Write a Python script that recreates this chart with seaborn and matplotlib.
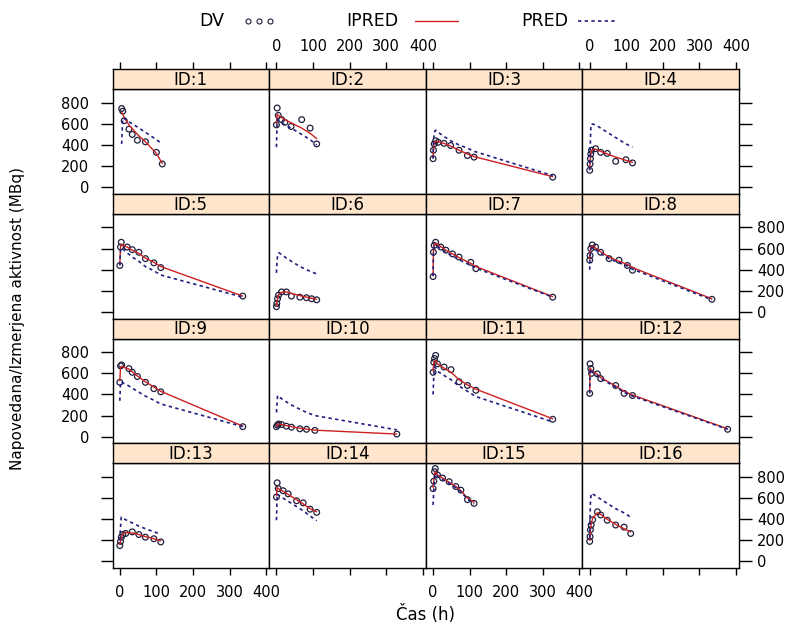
import numpy as np
import pandas as pd
import matplotlib
matplotlib.use("Agg")
import matplotlib.pyplot as plt
from matplotlib.lines import Line2D
import seaborn as sns

# ---- data: one list per subject (ID 1..16) ----
ids = list(range(1, 17))

sample_times = [
    [5, 8, 12, 25, 34, 48, 70, 100, 116],
    [0, 2, 5, 14, 23, 40, 69, 92, 110],
    [0, 1, 3, 7, 14, 30, 48, 71, 94, 112, 327],
    [0, 1, 2, 3, 5, 16, 30, 48, 71, 99, 117],
    [0, 2, 4, 20, 34, 52, 70, 93, 112, 336],
    [0, 1, 3, 6, 14, 27, 41, 64, 82, 96, 110],
    [0, 1, 3, 7, 21, 35, 53, 71, 103, 117, 327],
    [0, 1, 3, 7, 16, 30, 53, 80, 103, 117, 334],
    [0, 2, 5, 25, 34, 48, 70, 93, 112, 336],
    [0, 3, 6, 14, 27, 41, 64, 82, 105, 329],
    [0, 2, 4, 7, 12, 30, 49, 71, 94, 117, 327],
    [0, 1, 3, 5, 21, 30, 71, 94, 117, 377],
    [0, 2, 4, 8, 16, 34, 52, 70, 93, 112],
    [0, 2, 5, 18, 32, 55, 73, 92, 110],
    [0, 2, 4, 6, 12, 26, 44, 62, 76, 94, 112],
    [0, 1, 2, 4, 8, 21, 30, 48, 71, 94, 112],
]

dv_values = [
    [745, 720, 630, 550, 500, 445, 430, 330, 220],
    [590, 750, 680, 640, 615, 575, 640, 560, 410],
    [270, 350, 410, 440, 425, 415, 395, 350, 300, 285, 95],
    [160, 220, 270, 315, 350, 365, 330, 320, 245, 260, 230],
    [440, 615, 660, 615, 590, 565, 505, 465, 420, 150],
    [50, 80, 125, 160, 190, 190, 150, 140, 135, 125, 115],
    [335, 565, 630, 660, 615, 585, 550, 520, 470, 410, 140],
    [490, 535, 600, 635, 615, 565, 505, 490, 440, 395, 120],
    [515, 670, 680, 645, 610, 570, 515, 455, 425, 95],
    [95, 110, 120, 115, 100, 90, 75, 70, 60, 25],
    [610, 705, 740, 770, 690, 660, 635, 520, 485, 440, 165],
    [410, 690, 645, 600, 595, 550, 485, 410, 390, 70],
    [150, 190, 230, 255, 265, 280, 255, 230, 215, 185],
    [610, 745, 690, 670, 640, 575, 555, 495, 465],
    [690, 760, 850, 880, 820, 790, 755, 710, 675, 585, 550],
    [190, 235, 300, 345, 395, 470, 440, 390, 345, 325, 265],
]

ipred_values = [
    [710, 690, 660, 590, 555, 500, 430, 320, 225],
    [600, 690, 680, 660, 640, 610, 560, 510, 460],
    [280, 360, 420, 435, 430, 415, 390, 350, 315, 290, 100],
    [170, 230, 280, 320, 350, 360, 340, 315, 285, 255, 235],
    [450, 620, 640, 615, 585, 555, 510, 470, 430, 150],
    [55, 85, 130, 165, 185, 190, 175, 155, 140, 130, 120],
    [345, 570, 640, 650, 620, 585, 550, 515, 460, 430, 145],
    [500, 560, 610, 625, 605, 570, 520, 480, 450, 420, 125],
    [530, 660, 665, 640, 615, 575, 520, 470, 430, 100],
    [100, 115, 120, 115, 105, 95, 80, 72, 62, 25],
    [620, 700, 715, 720, 690, 650, 610, 540, 490, 450, 170],
    [420, 650, 640, 625, 590, 560, 480, 430, 395, 75],
    [160, 195, 235, 260, 275, 270, 255, 235, 215, 195],
    [620, 700, 690, 665, 635, 585, 545, 500, 470],
    [700, 770, 830, 850, 820, 790, 750, 710, 670, 600, 560],
    [200, 240, 300, 350, 410, 460, 445, 400, 350, 310, 280],
]

pred_values = [
    [410, 655, 650, 620, 600, 570, 520, 450, 410],
    [380, 640, 630, 610, 590, 560, 500, 450, 400],
    [270, 420, 520, 540, 520, 480, 440, 400, 370, 340, 110],
    [160, 300, 450, 560, 600, 590, 560, 520, 470, 410, 380],
    [440, 600, 610, 560, 520, 480, 430, 390, 350, 140],
    [370, 450, 530, 560, 545, 510, 480, 430, 400, 380, 360],
    [340, 560, 620, 630, 600, 565, 530, 495, 440, 415, 140],
    [400, 520, 590, 610, 590, 555, 505, 465, 435, 405, 115],
    [340, 520, 515, 480, 460, 430, 385, 345, 310, 95],
    [230, 390, 380, 360, 330, 300, 260, 230, 200, 65],
    [400, 580, 660, 650, 620, 580, 540, 480, 430, 380, 140],
    [410, 640, 630, 615, 580, 550, 470, 420, 385, 70],
    [200, 330, 420, 410, 395, 365, 335, 310, 280, 260],
    [390, 640, 630, 600, 570, 520, 480, 430, 385],
    [535, 680, 800, 830, 805, 775, 740, 700, 660, 590, 545],
    [220, 400, 560, 645, 640, 610, 590, 550, 500, 460, 420],
]

x_ticks = [0, 100, 200, 300, 400]
y_ticks = [0, 200, 400, 600, 800]
x_label = "Čas (h)"
y_label = "Napovedana/Izmerjena aktivnost (MBq)"
series_names = ["DV", "IPRED", "PRED"]

# ---- long table ----
rows = []
for pid, ts, dv, ip, pr in zip(ids, sample_times, dv_values, ipred_values, pred_values):
    for t, a, b, c in zip(ts, dv, ip, pr):
        rows.append({"ID": pid, "time": t, "DV": a, "IPRED": b, "PRED": c})
wide = pd.DataFrame(rows)
long = wide.melt(id_vars=["ID", "time"], var_name="series", value_name="value")

# ---- style ----
sns.set_theme(style="white")
plt.rcParams["font.family"] = ["DejaVu Sans"]
plt.rcParams["axes.linewidth"] = 1.0
plt.rcParams["text.color"] = "black"

dv_color = "#1E1E3C"
ipred_color = "#CC2020"
pred_color = "#1F1F80"
strip_color = "#FFE5CC"
pred_dash = (0, (2.0, 2.0))

W, H = 800, 627
fig = plt.figure(figsize=(W / 100, H / 100), dpi=100)
fig.patch.set_facecolor("white")


def box(x0, y0, x1, y1):
    """Pixel box (top-left origin) -> figure rect."""
    return [x0 / W, 1 - y1 / H, (x1 - x0) / W, (y1 - y0) / H]


left, right = 112.5, 739.0
top, bottom = 69.0, 568.0
ncol, nrow = 4, 4
cw = (right - left) / ncol
rh = (bottom - top) / nrow
strip_h = 20.0
xlim = (-20, 408)
ylim = (-62, 930)
tick_fs = 10.5

for i, pid in enumerate(ids):
    r, c = divmod(i, ncol)
    x0 = left + c * cw
    x1 = x0 + cw
    y0 = top + r * rh
    ys = y0 + strip_h
    y1 = y0 + rh

    ax = fig.add_axes(box(x0, ys, x1, y1))
    sax = fig.add_axes(box(x0, y0, x1, ys))

    sub = long[long["ID"] == pid]
    sns.scatterplot(data=sub[sub["series"] == "DV"], x="time", y="value", ax=ax,
                    marker="o", s=17, color=dv_color, facecolors="none",
                    edgecolors=dv_color, linewidth=0.9, legend=False, zorder=3)
    sns.lineplot(data=sub[sub["series"] == "IPRED"], x="time", y="value", ax=ax,
                 color=ipred_color, linewidth=1.0, estimator=None, sort=True,
                 legend=False, zorder=4)
    sns.lineplot(data=sub[sub["series"] == "PRED"], x="time", y="value", ax=ax,
                 color=pred_color, linewidth=1.2, linestyle=pred_dash,
                 estimator=None, sort=True, legend=False, zorder=5)

    ax.set_xlim(xlim)
    ax.set_ylim(ylim)
    ax.set_xlabel("")
    ax.set_ylabel("")
    ax.set_xticks(x_ticks)
    ax.set_yticks(y_ticks)
    ax.set_facecolor("white")
    ax.grid(False)
    # outer-edge ticks only, labels alternating between opposite sides
    ax.tick_params(axis="x", which="both", bottom=(r == nrow - 1), top=False,
                   labelbottom=(r == nrow - 1 and c in (0, 2)), labeltop=False,
                   direction="out", length=5, width=1, pad=7,
                   labelsize=tick_fs, colors="black")
    ax.tick_params(axis="y", which="both", left=(c == 0), right=(c == ncol - 1),
                   labelleft=(c == 0 and r in (0, 2)),
                   labelright=(c == ncol - 1 and r in (1, 3)),
                   direction="out", length=9, width=1,
                   pad=(4 if c == ncol - 1 else 8),
                   labelsize=tick_fs, colors="black")
    for s in ax.spines.values():
        s.set_color("black")
        s.set_linewidth(1.0)

    # strip with the subject label
    sax.set_facecolor(strip_color)
    sax.set_xlim(xlim)
    sax.set_ylim(0, 1)
    sax.set_yticks([])
    sax.grid(False)
    if r == 0:
        sax.set_xticks(x_ticks)
        sax.tick_params(axis="x", bottom=False, top=True, labelbottom=False,
                        labeltop=(c in (1, 3)), direction="out", length=5,
                        width=1, pad=6, labelsize=tick_fs, colors="black")
    else:
        sax.set_xticks([])
    for s in sax.spines.values():
        s.set_color("black")
        s.set_linewidth(1.0)
    sax.text(0.5, 0.45, f"ID:{pid}", transform=sax.transAxes, ha="center",
             va="center", fontsize=12, color="black")

# axis titles
fig.text((left + right) / 2 / W, 1 - 615 / H, x_label, ha="center", va="center",
         fontsize=12, color="black")
fig.text(18 / W, 1 - (top + bottom) / 2 / H, y_label, ha="center", va="center",
         rotation=90, fontsize=11, color="black")

# key above the panels
ky = 1 - 21 / H
fig.text(212 / W, ky, series_names[0], ha="center", va="center", fontsize=12.5)
for xc in (248, 259, 270):
    fig.add_artist(Line2D([xc / W], [ky], marker="o", ms=3.6, mfc="none",
                          mec=dv_color, mew=0.8, ls="none",
                          transform=fig.transFigure))
fig.text(372 / W, ky, series_names[1], ha="center", va="center", fontsize=12.5)
fig.add_artist(Line2D([415 / W, 458 / W], [ky, ky], color=ipred_color, lw=1.0,
                      transform=fig.transFigure))
fig.text(545 / W, ky, series_names[2], ha="center", va="center", fontsize=12.5)
fig.add_artist(Line2D([578 / W, 616 / W], [ky, ky], color=pred_color, lw=1.2,
                      ls=pred_dash, transform=fig.transFigure))

fig.savefig("out.png", dpi=100, facecolor="white")
